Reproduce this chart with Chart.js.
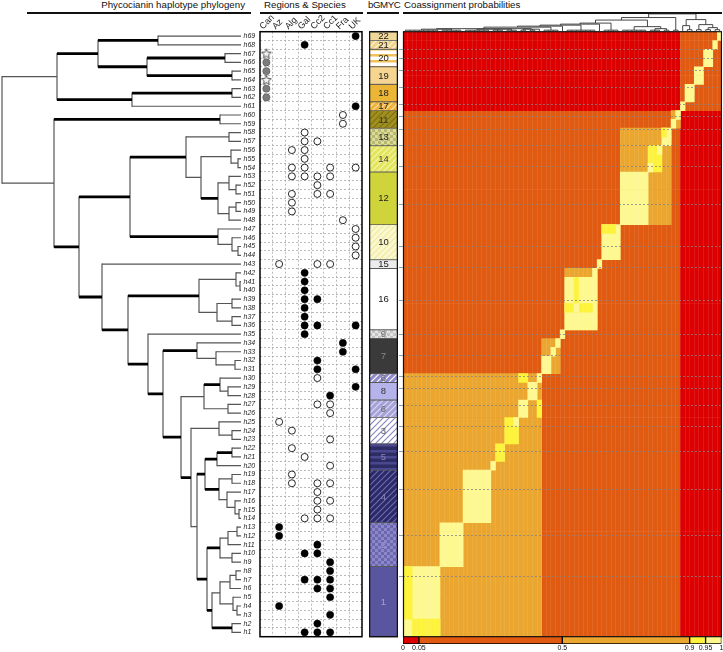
<!DOCTYPE html>
<html><head><meta charset="utf-8">
<script src="https://cdn.jsdelivr.net/npm/chart.js@4.4.1/dist/chart.umd.min.js"></script>
<style>
body{margin:0;width:723px;height:652px;position:relative;overflow:hidden;background:#fff;font-family:"Liberation Sans",sans-serif;}
canvas{position:absolute;}
.hd{position:absolute;top:-1px;font-size:9.7px;line-height:12px;color:#111;white-space:nowrap;}
.ln{position:absolute;top:11.5px;height:2px;background:#111;}
</style></head><body>
<div class="hd" style="left:25px;width:220px;text-align:right">Phycocianin haplotype phylogeny</div>
<div class="hd" style="left:264px">Regions &amp; Species</div>
<div class="hd" style="left:368px;letter-spacing:-0.4px">bGMYC</div>
<div class="hd" style="left:404px">Coassignment probabilities</div>
<div class="ln" style="left:27px;width:224px"></div>
<div class="ln" style="left:260px;width:103px"></div>
<div class="ln" style="left:367px;width:32px"></div>
<div class="ln" style="left:403px;width:319px"></div>
<canvas id="tree" width="262" height="652" style="left:0;top:0"></canvas>
<canvas id="dots" width="112" height="652" style="left:255px;top:0"></canvas>
<canvas id="bg" width="29" height="652" style="left:369px;top:0"></canvas>
<canvas id="heat" width="323" height="652" style="left:399px;top:0"></canvas>
<canvas id="dendro" width="319" height="32" style="left:403px;top:0"></canvas>
<canvas id="cbar" width="327" height="16" style="left:396px;top:636px"></canvas>
<script>
// ---------------- DATA ----------------
const haplotypes = Array.from({length: 69}, (_, i) => 'h' + (i + 1));
const regions = ['Can','Az','Alg','Gal','Cc2','Cc1','Fra','UK'];

// phylogeny: [depth, thickBranch, ...children]; leaves = haplotype number
const phyloTree = [2,0,
  [57,0,
    [98,1,[158,1,69,68],[147,1,[225,1,67,66],[232,1,65,64]]],
    [132,1,[232,1,63,62],61]
  ],
  [54,0,
    [220,1,60,59],
    [79,1,
      [130,1,
        [186,1,[229,0,58,57],[201,0,[231,0,56,[238,0,55,54]],[218,1,[229,0,53,[236,0,52,51]],[229,0,[236,0,50,49],48]]]],
        [218,1,47,[232,0,46,[238,0,45,44]]]
      ],
      [102,1,43,
        [128,1,
          [199,1,[236,0,42,[240,0,41,40]],[217,0,[232,0,39,38],[232,0,37,36]]],
          [148,1,35,
            [163,1,
              [197,1,34,[216,0,33,[235,0,32,31]]],
              [181,1,
                [204,0,[220,1,30,[228,0,29,28]],[228,0,27,26]],
                [191,1,
                  [219,0,25,[232,0,24,23]],
                  [197,0,
                    [205,1,[217,1,[232,1,22,21],20],[219,1,[232,0,19,18],[227,0,17,[235,0,16,[239,0,15,14]]]]],
                    [207,1,[220,1,[228,0,[237,0,13,12],11],[232,0,10,9]],
                      [212,1,[220,0,[230,0,[236,0,8,7],6],[233,0,5,[237,0,4,3]]],[232,1,2,1]]]
                  ]
                ]
              ]
            ]
          ]
        ]
      ]
    ]
  ]
];
const tipDepth = 241;

// region occurrences: [haplotype, regionIndex]
const filledDots = [[69,7],[68,3],[61,7],[42,3],[41,3],[40,3],[39,3],[39,4],[38,3],[37,3],[36,3],[36,4],[36,7],[35,3],
  [34,6],[33,6],[32,4],[31,4],[31,7],[29,7],[28,5],[13,1],[12,1],[11,4],[10,3],[10,4],[9,5],[8,5],[7,3],[7,4],[7,5],
  [6,4],[6,5],[5,5],[4,1],[3,5],[2,4],[1,3],[1,4],[1,5]];
const openDots = [[60,6],[59,6],[58,3],[57,3],[57,4],[56,2],[56,3],[55,3],[54,2],[54,3],[54,5],[54,7],[53,2],[53,3],[53,4],[53,5],
  [52,4],[51,2],[51,4],[51,5],[50,2],[49,2],[48,6],[47,7],[46,7],[45,7],[44,7],[43,1],[43,4],[43,5],[30,4],[27,4],[27,5],
  [26,5],[25,1],[24,2],[23,5],[22,2],[21,3],[20,5],[19,2],[18,2],[18,4],[18,5],[17,4],[16,4],[16,5],[15,4],[14,3],[14,4],[14,5]];
const greyDots = [[66,0],[65,0],[63,0],[62,0]];
const starDots = [[67,0],[64,0]];

// bGMYC clusters (top to bottom)
const clusterIds    = ['22','21','20','19','18','17','11','13','14','12','10','15','16','9','7','6','8','6','3','5','4','2','1'];
const clusterTop    = [69,68,67,65,63,61,60,58,56,53,47,43,42,35,34,30,29,27,25,22,19,13,8];
const clusterBottom = [69,68,66,64,62,61,59,57,54,48,44,43,36,35,31,30,28,26,23,20,14,9,1];

// coassignment probability blocks, painted in order: [rowFrom,rowTo,colFrom,colTo,probability]
const heatBlocks = [
  [1,60,1,60,0.30],[61,69,1,60,0.02],[1,60,61,69,0.02],[61,69,61,69,0.30],
  [61,61,61,61,0.98],[62,63,62,63,0.98],[64,65,64,65,0.98],[66,67,66,67,0.98],[68,68,68,68,0.98],[69,69,69,69,0.98],
  [59,60,59,60,0.70],[59,59,59,59,0.98],[60,60,60,60,0.98],
  [48,58,48,58,0.70],[57,58,57,58,0.98],[58,58,57,57,0.93],
  [54,56,54,56,0.93],[56,56,56,56,0.98],[54,54,54,54,0.98],
  [48,53,48,53,0.98],
  [44,47,44,47,0.98],[47,47,44,46,0.93],
  [43,43,43,43,0.98],
  [36,42,36,42,0.70],[36,41,36,42,0.98],[42,42,42,42,0.98],[38,38,36,41,0.93],[39,41,38,38,0.93],[38,38,38,38,0.98],
  [35,35,35,35,0.98],
  [31,34,31,34,0.70],[31,32,31,32,0.98],[33,33,33,33,0.98],[34,34,34,34,0.98],
  [1,30,1,30,0.70],
  [30,30,30,30,0.98],[30,30,26,27,0.93],[26,27,30,30,0.93],
  [28,29,28,29,0.98],[26,27,26,27,0.98],
  [23,25,23,25,0.93],[25,25,25,25,0.98],
  [20,20,20,20,0.98],[21,22,21,22,0.93],
  [14,19,14,19,0.98],[9,13,9,13,0.98],
  [1,8,1,8,0.98],[3,8,1,2,0.93],[1,2,3,8,0.93]
];

// column dendrogram: [height, ...children]; leaves = column (haplotype) number
const dendroTree = [17.6,
  [14,
    [11.5,
      [8.5,
        [7.5,
          [6.5,
            [5.5,
              [4.5,
                [3,
                  [2.5,[1.5,1,2,3,4,5,6,7,8],[1.5,9,10,11,12,13]],
                  [2.5,[1.5,14,15,16,17,18,19],[1.5,20,21,22],[1.5,23,24,25]],
                  [2.5,[1.5,26,27],[1.5,28,29],30]
                ],
                [1.5,31,32,33,34]
              ],35
            ],
            [1.5,36,37,38,39,40,41,42]
          ],43
        ],
        [1.5,44,45,46,47]
      ],
      [5,[1.5,48,49,50,51,52,53],[3,[1.5,54,55,56],[1.5,57,58]]]
    ],
    [1.5,59,60]
  ],
  [12,[6,61,[2,62,63]],[7,[2,64,65],[4,[2,66,67],[2,68,69]]]]
];

const colorBreaks = [0,0.05,0.5,0.9,0.95,1];
const colorBreakLabels = ['0','0.05','0.5','0.9','0.95','1'];

// ---------------- STYLES ----------------
const bandColors = ['#dc0000','#e05a11','#eaa62f','#fdf23c','#fef890'];
function probColor(p){ for(let i=0;i<bandColors.length;i++){ if(p<colorBreaks[i+1]) return bandColors[i]; } return bandColors[bandColors.length-1]; }

function pattern(kind, bg, fg){
  const c=document.createElement('canvas'); c.width=6; c.height=6; const g=c.getContext('2d');
  g.fillStyle=bg; g.fillRect(0,0,6,6); g.strokeStyle=fg; g.fillStyle=fg; g.lineWidth=1.2;
  if(kind==='diag'){ g.beginPath(); g.moveTo(0,6); g.lineTo(6,0); g.moveTo(-3,3); g.lineTo(3,-3); g.moveTo(3,9); g.lineTo(9,3); g.stroke(); }
  else if(kind==='hor'){ g.fillRect(0,0,6,2.5); }
  else if(kind==='chk'){ g.fillRect(0,0,3,3); g.fillRect(3,3,3,3); }
  return g.createPattern(c,'repeat');
}
const clusterFills = [
  '#f1d899', pattern('diag','#f0d48a','#fff4d8'), pattern('hor','#ffffff','#efc25a'), '#f6d591', '#ebb536',
  pattern('diag','#f0b33a','#fbe0a0'), pattern('diag','#a09020','#7f700e'), pattern('chk','#dcdc98','#b8b870'),
  pattern('diag','#e3e65c','#f4f4b0'), '#cfd43a', pattern('diag','#fbf8cf','#efeaa0'), '#ececec', '#ffffff',
  pattern('chk','#c4c4c4','#e4e4e4'), '#3a3a3a', pattern('diag','#8e8acc','#ffffff'), '#b6b3ea',
  pattern('diag','#a6a2d8','#dcdaf4'), pattern('diag','#ffffff','#8a86c0'), pattern('hor','#2e2c64','#4a4890'),
  pattern('diag','#2c2a66','#6d69b4'), pattern('chk','#8c88c8','#6b67b0'), '#5a559f'
];
const clusterText = ['#222','#222','#222','#222','#222','#222','#333','#222','#444','#222','#222','#222','#111',
  '#666','#8a8a8a','#666','#333','#666','#555','#8886b8','#8886b8','#9a98cc','#a4a2d0'];

Chart.defaults.responsive = false;
Chart.defaults.animation = false;
Chart.defaults.devicePixelRatio = 1;
Chart.defaults.plugins.legend.display = false;
Chart.defaults.plugins.tooltip.enabled = false;
Chart.defaults.font.family = '"Liberation Sans",sans-serif';

const PAD_TOP = 31.7, PAD_BOTTOM = 15.3;
function setTicks(vals){ return (scale)=>{ scale.ticks = vals.map(v=>({value:v})); }; }

// ---------------- TREE ----------------
const treeSets = [];
function seg(p,q,kind){
  treeSets.push({data:[{x:p[0],y:p[1]},{x:q[0],y:q[1]}], showLine:true, pointRadius:0,
    borderColor: kind==='thick' ? '#000' : '#555', borderWidth: kind==='thick' ? 2.8 : 1.2,
    borderCapStyle: kind==='v' ? 'square' : 'butt', order: kind==='v' ? 2 : 1});
}
function layTree(node){
  if(typeof node==='number') return {y:node, d:tipDepth};
  const [depth, , ...kids] = node;
  const ks = kids.map(layTree);
  seg([depth,ks[0].y],[depth,ks[ks.length-1].y],'v');
  kids.forEach((k,i)=>{ const thick = typeof k==='number' ? 0 : k[1]; seg([depth,ks[i].y],[ks[i].d,ks[i].y], thick?'thick':'thin'); });
  return {y:(ks[0].y+ks[ks.length-1].y)/2, d:depth};
}
layTree(phyloTree);
new Chart(document.getElementById('tree'), {
  type:'scatter', data:{datasets:treeSets},
  options:{layout:{padding:{left:0,right:21,top:PAD_TOP,bottom:PAD_BOTTOM}},
    scales:{x:{type:'linear',min:0,max:tipDepth,display:false}, y:{type:'linear',min:0.5,max:69.5,display:false}}},
  plugins:[{id:'tips', afterDraw(ch){
    const {ctx, scales:{x,y}} = ch; ctx.save();
    ctx.font='italic 7px "Liberation Sans",sans-serif'; ctx.fillStyle='#222'; ctx.textBaseline='middle';
    haplotypes.forEach((h,i)=>{ ctx.fillText(h, x.getPixelForValue(tipDepth)+2.5, y.getPixelForValue(i+1)); });
    ctx.restore(); }}]
});

// ---------------- REGIONS & SPECIES ----------------
const starImg = (()=>{ const c=document.createElement('canvas'); c.width=12; c.height=12; const g=c.getContext('2d');
  g.beginPath(); for(let i=0;i<10;i++){ const r = i%2 ? 2.3 : 5.2; const a = -Math.PI/2 + i*Math.PI/5; g.lineTo(6+r*Math.cos(a), 6.3+r*Math.sin(a)); }
  g.closePath(); g.fillStyle='#f2f2f2'; g.fill(); g.strokeStyle='#555'; g.lineWidth=1; g.stroke(); return c; })();
const toPts = arr => arr.map(([h,c])=>({x:c+0.5, y:h}));
const gridDash = {display:false, dash:[2,2]};
new Chart(document.getElementById('dots'), {
  type:'scatter',
  data:{datasets:[
    {data:toPts(openDots), pointRadius:3.5, pointBackgroundColor:'#fff', pointBorderColor:'#111', pointBorderWidth:0.9},
    {data:toPts(filledDots), pointRadius:3.6, pointBackgroundColor:'#000', pointBorderColor:'#000', pointBorderWidth:0.5},
    {data:toPts(greyDots), pointRadius:3.6, pointBackgroundColor:'#7c7c7c', pointBorderColor:'#555', pointBorderWidth:0.6},
    {data:toPts(starDots), pointStyle:starImg}
  ]},
  options:{layout:{padding:{left:5,right:4.5,top:PAD_TOP,bottom:PAD_BOTTOM}},
    scales:{
      x:{type:'linear',min:0,max:8,ticks:{display:false},grid:{color:'#a8a8a8',lineWidth:0.8,drawTicks:false},border:gridDash,
         afterBuildTicks:setTicks([1,2,3,4,5,6,7])},
      y:{type:'linear',min:0.5,max:69.5,ticks:{display:false},grid:{color:'#a8a8a8',lineWidth:0.8,drawTicks:false},border:gridDash,
         afterBuildTicks:setTicks(haplotypes.slice(0,68).map((h,i)=>i+1.5))}
    }},
  plugins:[{id:'frame', afterDraw(ch){
    const {ctx, chartArea:a, scales:{x}} = ch; ctx.save();
    ctx.strokeStyle='#000'; ctx.lineWidth=1.5; ctx.strokeRect(a.left,a.top,a.right-a.left,a.bottom-a.top);
    ctx.font='9px "Liberation Sans",sans-serif'; ctx.fillStyle='#222';
    regions.forEach((r,i)=>{ ctx.save(); ctx.translate(x.getPixelForValue(i+0.5)-3.5, a.top-2); ctx.rotate(-Math.PI/4); ctx.fillText(r,0,0); ctx.restore(); });
    ctx.restore(); }}]
});

// ---------------- bGMYC ----------------
new Chart(document.getElementById('bg'), {
  type:'bar',
  data:{labels:['bGMYC'], datasets: clusterIds.map((id,i)=>({data:[[clusterBottom[i]-0.5, clusterTop[i]+0.5]],
    backgroundColor:clusterFills[i], borderColor:'#5a5a5a', borderWidth:0.8, borderSkipped:false,
    barPercentage:1, categoryPercentage:1, grouped:false}))},
  options:{layout:{padding:{left:0,right:0,top:PAD_TOP,bottom:PAD_BOTTOM}},
    scales:{x:{display:false}, y:{type:'linear',min:0.5,max:69.5,display:false}}},
  plugins:[{id:'lbl', afterDraw(ch){
    const {ctx, chartArea:a, scales:{y}} = ch; ctx.save();
    ctx.font='9.5px "Liberation Sans",sans-serif'; ctx.textAlign='center'; ctx.textBaseline='middle';
    clusterIds.forEach((id,i)=>{ ctx.fillStyle=clusterText[i]; ctx.fillText(id,(a.left+a.right)/2, y.getPixelForValue((clusterTop[i]+clusterBottom[i])/2)+0.5); });
    ctx.strokeStyle='#111'; ctx.lineWidth=1.5; ctx.strokeRect(a.left+0.5,a.top,a.right-a.left-1,a.bottom-a.top);
    ctx.restore(); }}]
});

// ---------------- HEATMAP ----------------
const rowLabels = haplotypes.slice().reverse();
// Chart.js paints the first dataset on top, so the painting order is reversed here
const heatSets = heatBlocks.map(([r0,r1,c0,c1,p])=>{
  const data=[]; for(let r=r0;r<=r1;r++) data.push({y:'h'+r, x:[c0-1,c1]});
  return {data, backgroundColor:probColor(p), borderWidth:0, barPercentage:1, categoryPercentage:1, grouped:false};
}).reverse();
const boundaries = clusterBottom.filter(b=>b>1).map(b=>b-0.5);
new Chart(document.getElementById('heat'), {
  type:'bar',
  data:{labels:rowLabels, datasets:heatSets},
  options:{indexAxis:'y', layout:{padding:{left:0,right:0,top:PAD_TOP,bottom:PAD_BOTTOM}},
    scales:{
      x:{type:'linear',min:0,max:69,ticks:{display:false},grid:{color:'rgba(255,255,255,0.09)',lineWidth:1,drawTicks:false,z:1},border:{display:false},
         afterBuildTicks:setTicks(haplotypes.slice(0,68).map((h,i)=>i+1))},
      y:{type:'category',display:false},
      yb:{type:'linear',position:'left',min:0.5,max:69.5,ticks:{display:false},
          grid:{color:'#858585',lineWidth:0.8,drawTicks:true,tickLength:4,z:2},
          border:{display:false,dash:[2,2]},afterBuildTicks:setTicks(boundaries)}
    }},
  plugins:[{id:'frame', afterDraw(ch){ const {ctx, chartArea:a} = ch; ctx.save(); ctx.strokeStyle='#111'; ctx.lineWidth=1.2;
    ctx.strokeRect(a.left+0.5,a.top,a.right-a.left-1,a.bottom-a.top); ctx.restore(); }}]
});

// ---------------- COLUMN DENDROGRAM ----------------
const dSets = [];
function layD(node){
  if(typeof node==='number') return {x:node-0.5, h:0};
  const [h,...kids] = node; const ks = kids.map(layD);
  dSets.push({data:[{x:ks[0].x,y:h},{x:ks[ks.length-1].x,y:h}]});
  ks.forEach(k=>dSets.push({data:[{x:k.x,y:k.h},{x:k.x,y:h}]}));
  return {x:(ks[0].x+ks[ks.length-1].x)/2, h};
}
layD(dendroTree);
dSets.forEach(d=>Object.assign(d,{showLine:true,pointRadius:0,borderColor:'#333',borderWidth:0.9}));
new Chart(document.getElementById('dendro'), {
  type:'scatter', data:{datasets:dSets},
  options:{layout:{padding:{left:0,right:0,top:13.5,bottom:0.3}},
    scales:{x:{type:'linear',min:0,max:69,display:false}, y:{type:'linear',min:0,max:18,display:false}}}
});

// ---------------- COLOUR KEY ----------------
new Chart(document.getElementById('cbar'), {
  type:'bar',
  data:{labels:['key'], datasets: bandColors.map((c,i)=>({data:[{y:'key', x:[colorBreaks[i],colorBreaks[i+1]]}],
    backgroundColor:c, borderColor:'#000', borderWidth:1, borderSkipped:false, barPercentage:1, categoryPercentage:1, grouped:false}))},
  options:{indexAxis:'y', layout:{padding:{left:7,right:1.5,top:0.7,bottom:8}},
    scales:{x:{type:'linear',min:0,max:1,display:false}, y:{type:'category',display:false}}},
  plugins:[{id:'keyLabels', afterDraw(ch){
    const {ctx, chartArea:a, scales:{x}} = ch; ctx.save();
    ctx.font='7px "Liberation Sans",sans-serif'; ctx.fillStyle='#111'; ctx.textAlign='center'; ctx.textBaseline='top';
    colorBreaks.forEach((v,i)=>ctx.fillText(colorBreakLabels[i], x.getPixelForValue(v), a.bottom+1));
    ctx.restore(); }}]
});
</script>
</body></html>
